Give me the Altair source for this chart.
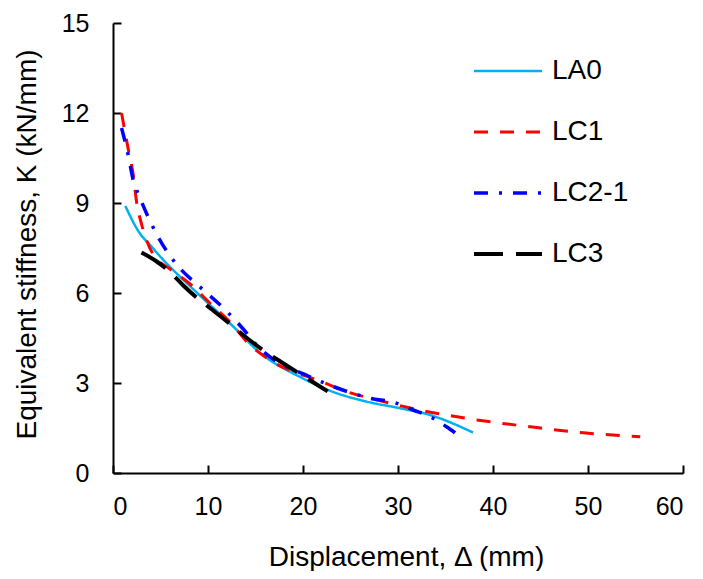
import altair as alt
import pandas as pd

series_names = ["LA0", "LC1", "LC2-1", "LC3"]

la0_x = [1.3, 2.8, 3.9, 5.6, 7.7, 9.2, 12.6, 15.5, 19.7, 23.2, 26.7, 30.2, 33.4, 37.9]
la0_y = [8.9, 8.0, 7.6, 7.0, 6.35, 5.9, 4.9, 4.0, 3.2, 2.7, 2.38, 2.16, 1.93, 1.35]

lc1_x = [0.9, 1.6, 2.1, 2.5, 3.0, 4.2, 6.0, 8.3, 10.2, 12.3, 14.4, 16.5, 22.0, 24.6, 27.1, 29.9, 32.7, 35.5, 38.3, 43.9, 49.5, 55.5]
lc1_y = [12.0, 10.8, 10.0, 9.0, 8.3, 7.3, 6.8, 6.25, 5.66, 5.04, 4.27, 3.77, 3.04, 2.71, 2.49, 2.27, 2.07, 1.91, 1.77, 1.54, 1.34, 1.21]

lc21_x = [0.9, 1.6, 2.1, 2.8, 3.9, 4.7, 7.2, 8.8, 12.0, 13.7, 15.1, 20.9, 22.8, 24.9, 27.1, 29.5, 31.6, 33.5, 35.1, 36.0]
lc21_y = [11.5, 10.6, 9.8, 9.2, 8.4, 7.9, 6.77, 6.3, 5.38, 4.8, 4.27, 3.18, 2.93, 2.69, 2.49, 2.36, 2.1, 1.86, 1.54, 1.34]

lc3_x = [3.0, 4.6, 6.0, 7.4, 8.8, 10.2, 12.0, 13.7, 15.5, 17.2, 19.3, 20.7, 22.6]
lc3_y = [7.35, 7.05, 6.7, 6.25, 5.85, 5.5, 5.05, 4.6, 4.16, 3.8, 3.38, 3.1, 2.72]

x_ticks = [0, 10, 20, 30, 40, 50, 60]
y_ticks = [0, 3, 6, 9, 12, 15]

rows = []
for name, xs_, ys_ in [("LA0", la0_x, la0_y), ("LC1", lc1_x, lc1_y),
                       ("LC2-1", lc21_x, lc21_y), ("LC3", lc3_x, lc3_y)]:
    for i, (a, b) in enumerate(zip(xs_, ys_)):
        rows.append({"series": name, "x": a, "y": b, "order": i})
df = pd.DataFrame(rows)

FONT = "Liberation Sans"


def xs():
    return alt.Scale(domain=[0, 60], nice=False, zero=False)


def ys():
    return alt.Scale(domain=[0, 15], nice=False, zero=False)


main = alt.Chart(df).mark_line(interpolate="monotone").encode(
    x=alt.X("x:Q", scale=xs(),
            axis=alt.Axis(values=x_ticks, title="Displacement, Δ (mm)", grid=False,
                          ticks=False, tickSize=0, domainColor="black", domainWidth=2,
                          labelFont=FONT, labelFontSize=25, labelColor="black",
                          labelPadding=21, titleFont=FONT, titleFontSize=28,
                          titleFontWeight="normal", titleColor="black",
                          titleX=293, titleY=92, titleBaseline="alphabetic")),
    y=alt.Y("y:Q", scale=ys(),
            axis=alt.Axis(values=y_ticks, title="Equivalent stiffness, K (kN/mm)", grid=False,
                          ticks=False, tickSize=0, domainColor="black", domainWidth=2,
                          labelFont=FONT, labelFontSize=25, labelColor="black",
                          labelPadding=24, titleFont=FONT, titleFontSize=28,
                          titleFontWeight="normal", titleColor="black",
                          titleX=-78, titleY=221, titleBaseline="alphabetic")),
    color=alt.Color("series:N", sort=series_names,
                    scale=alt.Scale(domain=series_names,
                                    range=["#00B0F0", "#FF0000", "#0000FF", "#000000"]),
                    legend=alt.Legend(title=None, orient="none", legendX=359, legendY=33,
                                      symbolType="stroke", symbolSize=4624,
                                      symbolStrokeWidth=4, clipHeight=30, rowPadding=31,
                                      labelOffset=8, labelFont=FONT, labelFontSize=28,
                                      labelColor="black", padding=0)),
    strokeDash=alt.StrokeDash("series:N", sort=series_names,
                              scale=alt.Scale(domain=series_names,
                                              range=[[1, 0], [14, 12], [14, 11, 3, 11], [29, 13]])),
    strokeWidth=alt.StrokeWidth("series:N", sort=series_names,
                                scale=alt.Scale(domain=series_names, range=[2.5, 4, 4, 4])),
    order="order:Q",
)

ticks_layer = alt.Chart(df).mark_point(opacity=0).encode(
    x=alt.X("x:Q", scale=xs(),
            axis=alt.Axis(values=x_ticks, orient="bottom", offset=-8, domain=False,
                          labels=False, ticks=True, tickSize=8, tickWidth=2,
                          tickColor="black", grid=False, title=None)),
    y=alt.Y("y:Q", scale=ys(),
            axis=alt.Axis(values=y_ticks, orient="left", offset=-8, domain=False,
                          labels=False, ticks=True, tickSize=8, tickWidth=2,
                          tickColor="black", grid=False, title=None)),
)

chart = alt.layer(main, ticks_layer).resolve_scale(
    x="independent", y="independent"
).resolve_axis(
    x="independent", y="independent"
).properties(
    width=570, height=450,
    autosize=alt.AutoSizeParams(type="none"),
    padding={"left": 105, "top": 15, "right": 12, "bottom": 98},
).configure_view(stroke=None)

chart.save("out.html", embed_options={"renderer": "svg", "actions": False})
